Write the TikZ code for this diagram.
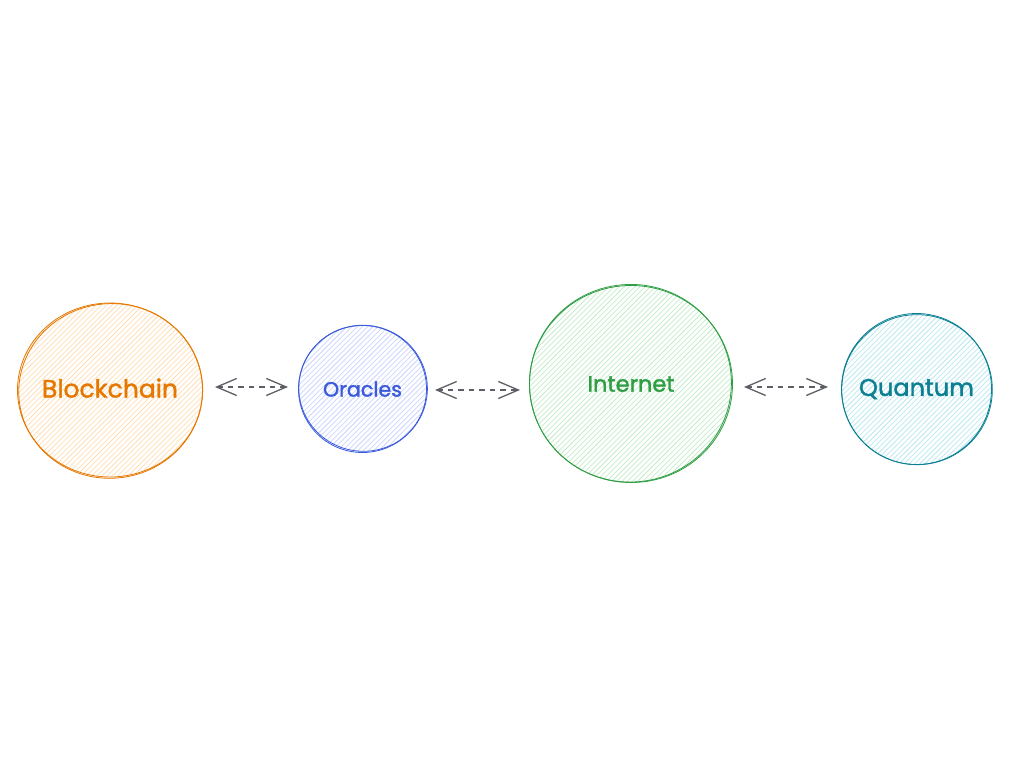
\documentclass[tikz,border=0pt]{standalone}
\usepackage{fontspec}
\setmainfont{Poppins}[FakeBold=1.6]
\usepackage{graphicx}
\usetikzlibrary{shapes.geometric,arrows.meta}
\definecolor{orS}{HTML}{E67700}
\definecolor{orH}{HTML}{FFDDB3}
\definecolor{blS}{HTML}{3B5BDB}
\definecolor{blH}{HTML}{CCD5FF}
\definecolor{grS}{HTML}{2F9E44}
\definecolor{grH}{HTML}{C3EDCA}
\definecolor{tlS}{HTML}{0C7F93}
\definecolor{tlH}{HTML}{BAE9F0}
\definecolor{arr}{HTML}{5C5F66}
\tikzset{
  bub/.style 2 args={ellipse, inner sep=0pt, outer sep=0pt, text=#1,
    path picture={
      \foreach \k in {-45,...,45}{
        \draw[#2, line width=0.75pt] ([xshift=\k*5.2pt]path picture bounding box.center) ++(-160pt,-160pt) -- ++(320pt,320pt);
      }
    }},
  rough/.style={line width=0.8pt},
  link/.style={draw=arr, line width=1.3pt, dash pattern=on 5.5pt off 5pt,
    {Straight Barb[length=20pt,width=17pt,line width=1.3pt]}-{Straight Barb[length=20pt,width=17pt,line width=1.3pt]}}
}
\begin{document}
\begin{tikzpicture}[x=1pt,y=-1pt]
\useasboundingbox[fill=white] (0,0) rectangle (1024,768);

\node[bub={orS}{orH}, minimum width=186pt, minimum height=174pt] (b) at (110,390)
  {\makebox[0pt]{\raisebox{4pt}{\resizebox{136pt}{!}{Blockchain}}}};
\node[bub={blS}{blH}, minimum width=129pt, minimum height=128pt] (o) at (362.5,389)
  {\makebox[0pt]{\resizebox{79pt}{!}{Oracles}}};
\node[bub={grS}{grH}, minimum width=204pt, minimum height=198pt] (i) at (631,384)
  {\makebox[0pt]{\resizebox{87pt}{!}{Internet}}};
\node[bub={tlS}{tlH}, minimum width=151pt, minimum height=152pt] (q) at (916.5,389)
  {\makebox[0pt]{\raisebox{2pt}{\resizebox{115pt}{!}{Quantum}}}};

% hand-drawn double strokes
\draw[rough, orS] (b.center) ellipse [x radius=92.5pt, y radius=87pt];
\draw[rough, orS, rotate around={6:(b.center)}] ([shift={(0.6pt,-1pt)}]b.center) ellipse [x radius=92pt, y radius=87.3pt];
\draw[rough, blS] (o.center) ellipse [x radius=64pt, y radius=63.5pt];
\draw[rough, blS, rotate around={-8:(o.center)}] ([shift={(0.5pt,0.8pt)}]o.center) ellipse [x radius=64.3pt, y radius=63pt];
\draw[rough, grS] (i.center) ellipse [x radius=101.5pt, y radius=98.5pt];
\draw[rough, grS, rotate around={5:(i.center)}] ([shift={(-0.5pt,0.8pt)}]i.center) ellipse [x radius=101pt, y radius=98.8pt];
\draw[rough, tlS] (q.center) ellipse [x radius=75pt, y radius=75.5pt];
\draw[rough, tlS, rotate around={-6:(q.center)}] ([shift={(0.6pt,-0.6pt)}]q.center) ellipse [x radius=75.3pt, y radius=75pt];

\draw[link, shorten <=12pt, shorten >=10pt] ([yshift=3pt]b.east) -- ([yshift=2pt]o.west);
\draw[link, shorten <=8pt, shorten >=9pt] ([yshift=-1pt]o.east) -- ([yshift=-6pt]i.west);
\draw[link, shorten <=11pt, shorten >=13pt] ([yshift=-3pt]i.east) -- ([yshift=2pt]q.west);
\end{tikzpicture}
\end{document}
